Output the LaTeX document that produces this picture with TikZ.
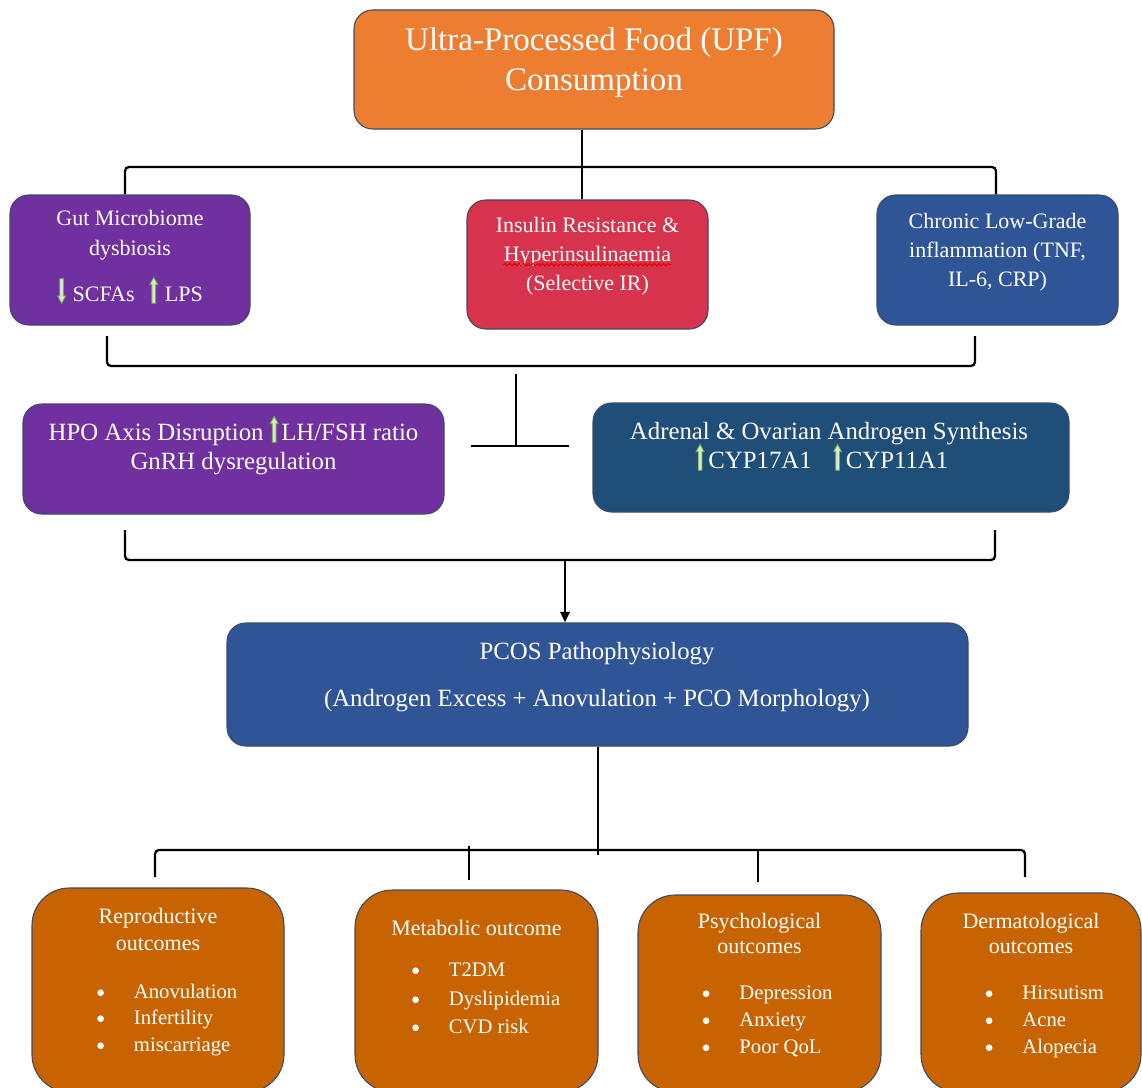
\documentclass[tikz,border=0pt]{standalone}
\usepackage{fontspec}
\setmainfont{Liberation Serif}
\usetikzlibrary{arrows.meta,decorations.pathmorphing}
\definecolor{cupf}{HTML}{ED7D31}
\definecolor{cpur}{HTML}{7030A0}
\definecolor{cred}{HTML}{D7334D}
\definecolor{cblue}{HTML}{2F5597}
\definecolor{cdblue}{HTML}{1F4E79}
\definecolor{corg}{HTML}{C76300}
\definecolor{cedge}{HTML}{3C4B66}
\definecolor{agreen}{HTML}{70AD47}
\definecolor{afill}{HTML}{D5EBC5}
\definecolor{wavy}{HTML}{E80000}
\newcommand\gup{\tikz[baseline=0pt,x=1pt,y=1pt]\filldraw[draw=agreen,fill=afill,line width=0.6pt] (1.6,-1.5)--(1.6,12.5)--(0,12.5)--(3,18)--(6,12.5)--(4.4,12.5)--(4.4,-1.5)--cycle;}
\newcommand\gdown{\tikz[baseline=0pt,x=1pt,y=1pt]\filldraw[draw=agreen,fill=afill,line width=0.6pt] (1.6,17)--(1.6,4)--(0,4)--(3,-1.5)--(6,4)--(4.4,4)--(4.4,17)--cycle;}
\newcommand\bul[1]{\makebox[27.5pt][l]{\tikz[baseline=0pt,x=1pt,y=1pt]\fill[white] (2.5,4.2) circle (2.5);}#1}
\begin{document}
\begin{tikzpicture}[x=0.75pt,y=-0.75pt,
  box/.style={draw=cedge,line width=0.8pt,rounded corners=14pt,inner sep=0pt},
  obox/.style={box,fill=corg,rounded corners=28pt},
  tl/.style={text=white,inner sep=0pt,text height=0.7em,text depth=0.2em},
  fupf/.style={font=\fontsize{24.75}{30}\selectfont},
  fmid/.style={font=\fontsize{16.5}{22}\selectfont},
  fbig/.style={font=\fontsize{18.6}{24}\selectfont},
  ftit/.style={font=\fontsize{16.5}{22}\selectfont},
  fbul/.style={font=\fontsize{15.5}{20}\selectfont},
  conn/.style={line width=1.7pt,rounded corners=3pt}]
\useasboundingbox (0,0) rectangle (1142,1088);
% boxes
\node[box,fill=cupf,minimum width=360pt,minimum height=89.25pt] (upf) at (594,69.5) {};
\node[box,fill=cpur,minimum width=180pt,minimum height=97.5pt] (gut) at (130,260) {};
\node[box,fill=cred,minimum width=180.75pt,minimum height=96.75pt] (ins) at (587.5,264.5) {};
\node[box,fill=cblue,minimum width=180.75pt,minimum height=97.5pt] (chr) at (997.5,260) {};
\node[box,fill=cpur,minimum width=315.75pt,minimum height=82.5pt] (hpo) at (233.5,459) {};
\node[box,fill=cdblue,minimum width=357pt,minimum height=81.75pt] (adr) at (831,457.5) {};
\node[box,fill=cblue,minimum width=555.75pt,minimum height=92.25pt] (pcos) at (597.5,684.5) {};
\node[obox,minimum width=189pt,minimum height=153pt] (rep) at (158,990) {};
\node[obox,minimum width=182.25pt,minimum height=151.5pt] (met) at (476.5,991) {};
\node[obox,minimum width=182.25pt,minimum height=147.75pt] (psy) at (759.5,993.5) {};
\node[obox,minimum width=165pt,minimum height=149.25pt] (der) at (1031,992.5) {};
% texts
\node[tl,fupf] (upf1) at (594,47) {Ultra-Processed Food (UPF)};
\node[tl,fupf] (upf2) at (594,87) {Consumption};
\node[tl,fmid] (gut1) at (130,222) {Gut Microbiome};
\node[tl,fmid] (gut2) at (130,252) {dysbiosis};
\node[tl,fmid] (gut3) at (130,298) {\gdown\hspace{5pt}SCFAs\hspace{11pt}\gup\hspace{5pt}LPS};
\node[tl,fmid] (ins1) at (587.5,229) {Insulin Resistance \&};
\node[tl,fmid] (ins2) at (587.5,258) {Hyperinsulinaemia};
\node[tl,fmid] (ins3) at (587.5,287) {(Selective IR)};
\draw[wavy,line width=0.8pt,decorate,decoration={snake,amplitude=0.9pt,segment length=3.5pt}] ([yshift=-2.5pt]ins2.base west) -- ([yshift=-2.5pt]ins2.base east);
\node[tl,fmid] (chr1) at (997.5,225) {Chronic Low-Grade};
\node[tl,fmid] (chr2) at (997.5,254) {inflammation (TNF,};
\node[tl,fmid] (chr3) at (997.5,283) {IL-6, CRP)};
\node[tl,fbig] (hpo1) at (233.5,437) {HPO Axis Disruption \gup\hspace{2pt}LH/FSH ratio};
\node[tl,fbig] (hpo2) at (233.5,466) {GnRH dysregulation};
\node[tl,fbig] (adr1) at (829,436) {Adrenal \& Ovarian Androgen Synthesis};
\node[tl,fbig] (adr2) at (822,465) {\gup\hspace{3pt}CYP17A1\hspace{16pt}\gup\hspace{3pt}CYP11A1};
\node[tl,fbig] (pc1) at (597,656) {PCOS Pathophysiology};
\node[tl,fbig] (pc2) at (597,703) {(Androgen Excess + Anovulation + PCO Morphology)};
\node[tl,ftit] (rep1) at (158,920) {Reproductive};
\node[tl,ftit] (rep2) at (158,947) {outcomes};
\node[tl,fbul,anchor=west] (rep3) at (97,995) {\bul{Anovulation}};
\node[tl,fbul,anchor=west] (rep4) at (97,1021) {\bul{Infertility}};
\node[tl,fbul,anchor=west] (rep5) at (97,1048) {\bul{miscarriage}};
\node[tl,ftit] (met1) at (476.5,932) {Metabolic outcome};
\node[tl,fbul,anchor=west] (met2) at (412,973) {\bul{T2DM}};
\node[tl,fbul,anchor=west] (met3) at (412,1002) {\bul{Dyslipidemia}};
\node[tl,fbul,anchor=west] (met4) at (412,1030) {\bul{CVD risk}};
\node[tl,ftit] (psy1) at (759.5,925) {Psychological};
\node[tl,ftit] (psy2) at (759.5,950) {outcomes};
\node[tl,fbul,anchor=west] (psy3) at (702.5,996) {\bul{Depression}};
\node[tl,fbul,anchor=west] (psy4) at (702.5,1023) {\bul{Anxiety}};
\node[tl,fbul,anchor=west] (psy5) at (702.5,1050) {\bul{Poor QoL}};
\node[tl,ftit] (der1) at (1031,925) {Dermatological};
\node[tl,ftit] (der2) at (1031,950) {outcomes};
\node[tl,fbul,anchor=west] (der3) at (985.5,996) {\bul{Hirsutism}};
\node[tl,fbul,anchor=west] (der4) at (985.5,1023) {\bul{Acne}};
\node[tl,fbul,anchor=west] (der5) at (985.5,1050) {\bul{Alopecia}};
% connectors
\coordinate (c0) at (582,167);
\coordinate (b1l) at (125,167);
\coordinate (b1r) at (996,167);
\draw[conn] (upf.south -| c0) -- (ins.north -| c0);
\draw[conn] (gut.north -| b1l) |- (b1r) -- (chr.north -| b1r);
\coordinate (b2lt) at (107,336);
\coordinate (b2lb) at (107,366);
\coordinate (b2rb) at (975,366);
\coordinate (b2rt) at (975,336);
\draw[conn] (b2lt) -- (b2lb) -- (b2rb) -- (b2rt);
\coordinate (t1) at (516,374);
\coordinate (t2) at (516,446);
\coordinate (t3) at (471,446);
\coordinate (t4) at (569,446);
\draw[line width=1.7pt] (t1) -- (t2);
\draw[line width=1.7pt] (t3) -- (t4);
\coordinate (b3lt) at (125,530);
\coordinate (b3lb) at (125,560);
\coordinate (b3rb) at (995,560);
\coordinate (b3rt) at (995,530);
\coordinate (b3m) at (565,560);
\draw[conn] (b3lt) -- (b3lb) -- (b3rb) -- (b3rt);
\draw[line width=1.7pt,-{Triangle[length=8pt,width=7pt]}] (b3m) -- (pcos.north -| b3m);
\coordinate (b4m) at (598,855);
\draw[line width=1.7pt] (pcos.south -| b4m) -- (b4m);
\coordinate (b4lt) at (155,877);
\coordinate (b4l) at (155,850);
\coordinate (b4r) at (1025,850);
\coordinate (b4rt) at (1025,877);
\draw[conn] (b4lt) -- (b4l) -- (b4r) -- (b4rt);
\coordinate (b4a1) at (469,846);
\coordinate (b4a2) at (469,880);
\coordinate (b4b1) at (758,850);
\coordinate (b4b2) at (758,882);
\draw[line width=1.7pt] (b4a1) -- (b4a2);
\draw[line width=1.7pt] (b4b1) -- (b4b2);
\end{tikzpicture}
\end{document}
